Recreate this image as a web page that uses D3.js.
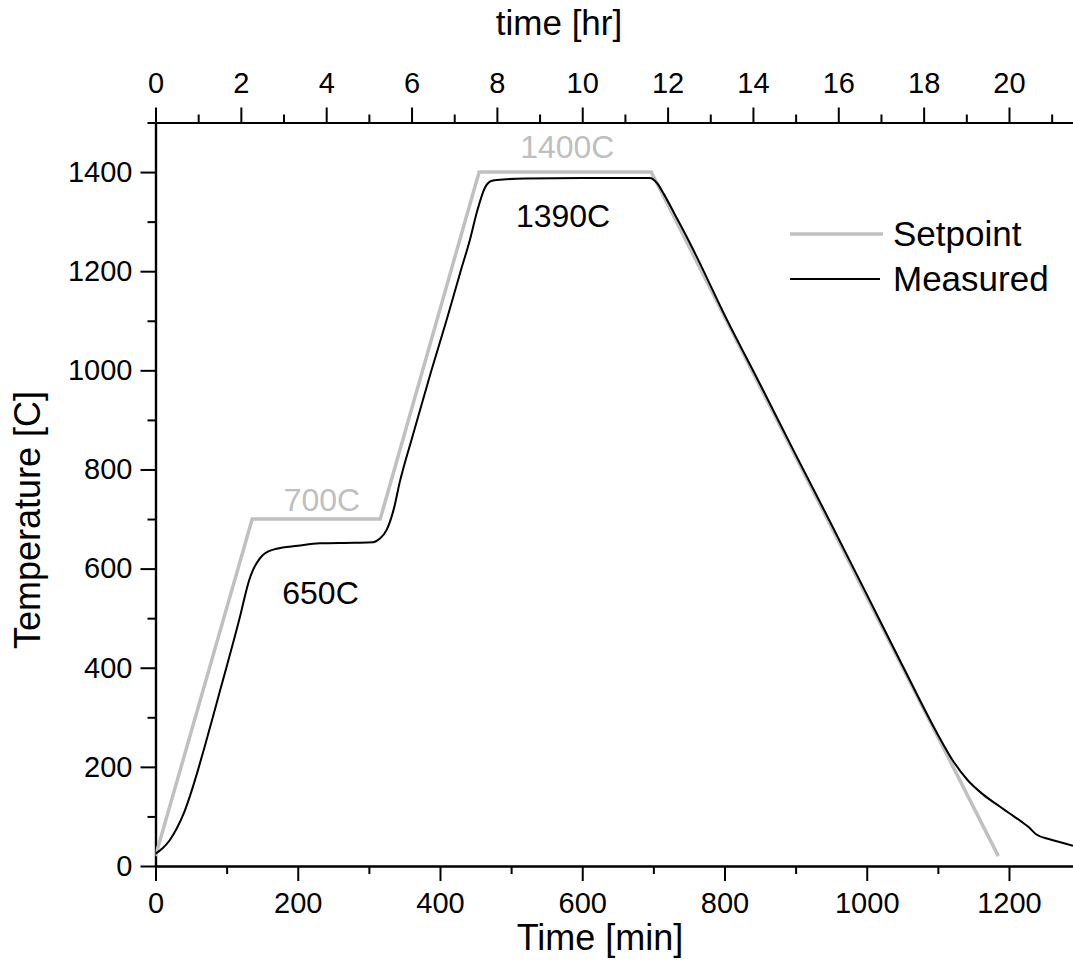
<!DOCTYPE html>
<html>
<head>
<meta charset="utf-8">
<script src="https://cdn.jsdelivr.net/npm/d3@7"></script>
<style>
  body { margin: 0; background: #fff; }
  text { font-family: "Liberation Sans", Arial, sans-serif; fill: #000; }
</style>
</head>
<body>
<div id="vis"></div>
<script>
const FRAME_WIDTH = 1073;
const FRAME_HEIGHT = 967;
const MARGINS = { left: 155.5, right: 0, top: 122.5, bottom: 101 };

// setpoint program (min, C)
const setpointTime = [0, 136, 316, 455, 697, 1185];
const setpointTemp = [20, 700, 700, 1400, 1400, 20];

// measured furnace temperature (min, C)
const measuredTime = [0, 10, 20, 30, 40, 50, 60, 70, 80, 90, 100, 110, 120, 127, 132, 137, 143, 150, 158, 170, 200, 231, 280, 306, 315, 325, 335, 344, 348, 360, 388, 410, 429, 442, 452, 463, 472, 480, 520, 600, 695, 705, 715, 730, 747, 760, 800, 850, 900, 950, 1000, 1050, 1100, 1120, 1142, 1163, 1187, 1201, 1217, 1228, 1238, 1257, 1275, 1290];
const measuredTemp = [25, 36, 52, 76, 107, 148, 195, 245, 297, 350, 402, 455, 510, 552, 578, 597, 613, 626, 634, 640, 646, 651, 652, 653, 660, 678, 720, 778, 800, 860, 1000, 1105, 1200, 1263, 1320, 1368, 1382, 1384, 1387, 1388, 1388, 1378, 1355, 1315, 1269, 1232, 1112, 972, 830, 690, 548, 405, 265, 215, 173, 145, 120, 106, 90, 78, 64, 54, 47, 41];

const xMajor = [0, 200, 400, 600, 800, 1000, 1200];
const xMinor = [100, 300, 500, 700, 900, 1100];
const hrMajor = [0, 2, 4, 6, 8, 10, 12, 14, 16, 18, 20];
const hrMinor = [1, 3, 5, 7, 9, 11, 13, 15, 17, 19, 21];
const yMajor = [0, 200, 400, 600, 800, 1000, 1200, 1400];
const yMinor = [100, 300, 500, 700, 900, 1100, 1300, 1500];

const annotations = [
  { text: "700C", t: 234, v: 700, dy: -8, color: "#bfbfbf" },
  { text: "650C", t: 232, v: 650, dy: 60, color: "#000" },
  { text: "1400C", t: 579, v: 1400, dy: -14, color: "#bfbfbf" },
  { text: "1390C", t: 573, v: 1390, dy: 50, color: "#000" }
];

const seriesNames = ["Setpoint", "Measured"];

const VIS_WIDTH = FRAME_WIDTH - MARGINS.left - MARGINS.right;
const VIS_HEIGHT = FRAME_HEIGHT - MARGINS.top - MARGINS.bottom;

const X_MAX = 1290;

const X_SCALE = d3.scaleLinear().domain([0, X_MAX]).range([0, VIS_WIDTH]);
const HR_SCALE = d3.scaleLinear().domain([0, X_MAX / 60]).range([0, VIS_WIDTH]);
const Y_SCALE = d3.scaleLinear().domain([0, 1500]).range([VIS_HEIGHT, 0]);

const FRAME = d3.select("#vis")
  .append("svg")
  .attr("width", FRAME_WIDTH)
  .attr("height", FRAME_HEIGHT);

const plot = FRAME.append("g")
  .attr("transform", "translate(" + MARGINS.left + "," + MARGINS.top + ")");

plot.append("clipPath").attr("id", "clip")
  .append("rect")
  .attr("x", 0).attr("y", -2)
  .attr("width", VIS_WIDTH + 2).attr("height", VIS_HEIGHT + 4);

const TICK_FONT = 29;
const fmt = d3.format("d");

function styleAxis(g) {
  g.select(".domain").attr("stroke", "#000").attr("stroke-width", 2.2);
  g.selectAll(".tick line").attr("stroke", "#000").attr("stroke-width", 2);
  g.selectAll(".tick text")
    .attr("font-family", "Liberation Sans, Arial, sans-serif")
    .attr("fill", "#000");
  g.attr("font-size", TICK_FONT);
}

// bottom axis
const bottomMinor = plot.append("g")
  .attr("transform", "translate(0," + VIS_HEIGHT + ")")
  .call(d3.axisBottom(X_SCALE).tickValues(xMinor).tickSize(8).tickFormat("").tickSizeOuter(0));
styleAxis(bottomMinor);
const bottomAxis = plot.append("g")
  .attr("transform", "translate(0," + VIS_HEIGHT + ")")
  .call(d3.axisBottom(X_SCALE).tickValues(xMajor).tickSize(15).tickPadding(11).tickFormat(fmt).tickSizeOuter(0));
styleAxis(bottomAxis);

// top axis (hours)
const topMinor = plot.append("g")
  .call(d3.axisTop(HR_SCALE).tickValues(hrMinor).tickSize(8).tickFormat("").tickSizeOuter(0));
styleAxis(topMinor);
const topAxis = plot.append("g")
  .call(d3.axisTop(HR_SCALE).tickValues(hrMajor).tickSize(15).tickPadding(15).tickFormat(fmt).tickSizeOuter(0));
styleAxis(topAxis);

// left axis
const leftMinor = plot.append("g")
  .call(d3.axisLeft(Y_SCALE).tickValues(yMinor).tickSize(8).tickFormat("").tickSizeOuter(0));
styleAxis(leftMinor);
const leftAxis = plot.append("g")
  .call(d3.axisLeft(Y_SCALE).tickValues(yMajor).tickSize(15).tickPadding(8).tickFormat(fmt).tickSizeOuter(0));
styleAxis(leftAxis);

// lines
const setpointData = setpointTime.map((t, i) => ({ t: t, v: setpointTemp[i] }));
const measuredData = measuredTime.map((t, i) => ({ t: t, v: measuredTemp[i] }));

const lineGen = d3.line()
  .x((d) => X_SCALE(d.t))
  .y((d) => Y_SCALE(d.v));

plot.append("path")
  .datum(setpointData)
  .attr("clip-path", "url(#clip)")
  .attr("fill", "none")
  .attr("stroke", "#c0c0c0")
  .attr("stroke-width", 3.5)
  .attr("stroke-linejoin", "miter")
  .attr("d", lineGen);

plot.append("path")
  .datum(measuredData)
  .attr("clip-path", "url(#clip)")
  .attr("fill", "none")
  .attr("stroke", "#000")
  .attr("stroke-width", 2)
  .attr("d", lineGen.curve(d3.curveMonotoneX));

// annotations
plot.selectAll(".anno")
  .data(annotations)
  .enter()
  .append("text")
  .attr("x", (d) => X_SCALE(d.t))
  .attr("y", (d) => Y_SCALE(d.v) + d.dy)
  .attr("text-anchor", "middle")
  .attr("font-size", 32)
  .style("fill", (d) => d.color)
  .text((d) => d.text);

// legend
const legend = FRAME.append("g").attr("transform", "translate(790,234)");
seriesNames.forEach((name, i) => {
  const row = legend.append("g").attr("transform", "translate(0," + (i * 45) + ")");
  row.append("line")
    .attr("x1", 0).attr("x2", i === 0 ? 93 : 90)
    .attr("stroke", i === 0 ? "#c0c0c0" : "#000")
    .attr("stroke-width", i === 0 ? 3.5 : 2);
  row.append("text")
    .attr("x", 103)
    .attr("dy", "0.35em")
    .attr("font-size", 35)
    .text(name);
});

// axis titles
FRAME.append("text")
  .attr("x", 600)
  .attr("y", 950)
  .attr("text-anchor", "middle")
  .attr("font-size", 36)
  .text("Time [min]");

FRAME.append("text")
  .attr("x", 559)
  .attr("y", 35)
  .attr("text-anchor", "middle")
  .attr("font-size", 35)
  .text("time [hr]");

FRAME.append("text")
  .attr("transform", "translate(40,520) rotate(-90)")
  .attr("text-anchor", "middle")
  .attr("font-size", 36)
  .text("Temperature [C]");
</script>
</body>
</html>
